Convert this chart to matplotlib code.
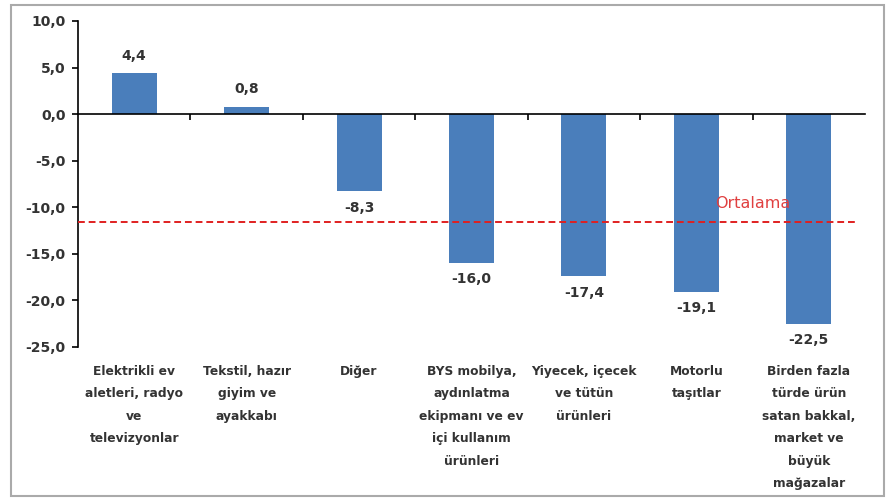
import matplotlib.pyplot as plt
import numpy as np
from matplotlib.patches import Rectangle

categories = [
    "Elektrikli ev\naletleri, radyo\nve\ntelevizyonlar",
    "Tekstil, hazır\ngiyim ve\nayakkabı",
    "Diğer",
    "BYS mobilya,\naydınlatma\nekipmanı ve ev\niçi kullanım\nürünleri",
    "Yiyecek, içecek\nve tütün\nürünleri",
    "Motorlu\ntaşıtlar",
    "Birden fazla\ntürde ürün\nsatan bakkal,\nmarket ve\nbüyük\nmağazalar",
]
values = [4.4, 0.8, -8.3, -16.0, -17.4, -19.1, -22.5]
average = -11.6
yticks = [10, 5, 0, -5, -10, -15, -20, -25]

plt.rcParams['font.family'] = ['DejaVu Sans']

fig = plt.figure(figsize=(8.87, 4.99), dpi=100)
ax = fig.add_axes([78 / 887, 1 - 347 / 499, 787 / 887, (347 - 21) / 499])

x = np.arange(len(values))
ax.bar(x, values, width=0.4, color='#4a7ebb', zorder=2)

ax.set_xlim(-0.5, len(values) - 0.5)
ax.set_ylim(-25, 10)
ax.set_yticks(yticks)
ax.set_yticklabels([f"{v:.1f}".replace('.', ',') for v in yticks],
                   fontsize=10, fontweight='bold', color='#333333')
ax.tick_params(axis='y', length=4, width=1.2, pad=5)

# x axis sits at zero, ticks between categories
ax.spines['bottom'].set_position(('data', 0))
ax.spines['bottom'].set_linewidth(1.2)
ax.spines['left'].set_linewidth(1.2)
ax.spines['top'].set_visible(False)
ax.spines['right'].set_visible(False)
ax.set_xticks(np.arange(len(values) - 1) + 0.5)
ax.set_xticklabels([])
ax.tick_params(axis='x', length=4, width=1.2, direction='out')

for i, v in enumerate(values):
    lbl = f"{v:.1f}".replace('.', ',')
    if v >= 0:
        ax.text(i, v + 1.1, lbl, ha='center', va='bottom', fontsize=10,
                fontweight='bold', color='#333333')
    else:
        ax.text(i, v - 1.0, lbl, ha='center', va='top', fontsize=10,
                fontweight='bold', color='#333333')
    ax.text(i, -26.9, categories[i], ha='center', va='top', fontsize=8.8,
            fontweight='bold', color='#333333', linespacing=1.95,
            clip_on=False)

ax.axhline(average, xmin=0, xmax=0.991, color='#e02020', linestyle=(0, (3.5, 2)),
           linewidth=1.4, zorder=3)
ax.text(5.5, average + 1.2, "Ortalama", color='#e04040', fontsize=11.5,
        ha='center', va='bottom', zorder=4)

fig.patches.append(Rectangle((11 / 887, 3 / 499), 873 / 887, 491 / 499,
                             transform=fig.transFigure, fill=False,
                             edgecolor='#aaaaaa', linewidth=1.5))

fig.savefig('out.png', dpi=100)
